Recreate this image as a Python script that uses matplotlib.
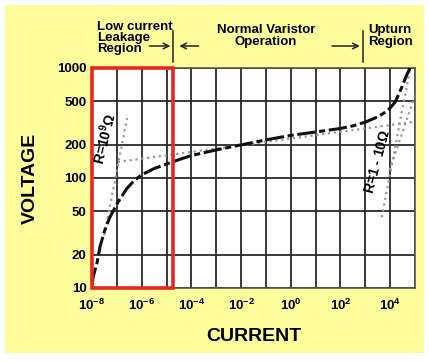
import matplotlib.pyplot as plt
from matplotlib.patches import Rectangle
import matplotlib.transforms as mtransforms

plt.rcParams['font.family'] = ['Liberation Sans', 'DejaVu Sans']
plt.rcParams['font.weight'] = 'bold'
plt.rcParams['mathtext.fontset'] = 'custom'
plt.rcParams['mathtext.rm'] = 'Liberation Sans:bold'
plt.rcParams['mathtext.bf'] = 'Liberation Sans:bold'
plt.rcParams['mathtext.it'] = 'Liberation Sans:bold:italic'

# V-I curve of a varistor
current = [1e-8, 1.12e-8, 1.6e-8, 2.1e-8, 3.2e-8, 5e-8, 1e-7, 2.5e-7, 5e-7,
           1e-6, 3.2e-6, 1e-5, 3.2e-5, 1e-4, 1e-3, 1e-2, 1e-1, 1, 10, 100,
           320, 1000, 3200, 8000, 1.6e4, 3e4, 4.5e4, 6.3e4]
voltage = [10.5, 12.7, 17, 23.7, 33, 43, 58, 80, 95,
           107, 122, 134, 147, 160, 180, 200, 222, 244, 262, 282,
           298, 322, 360, 410, 490, 676, 850, 1000]

# dotted tangent lines (start, end)
leak_I = [3.1e-8, 2.6e-7]
leak_V = [30, 351]
normal_I = [1.1e-7, 1e5]
normal_V = [140, 325]
upA_I = [4.6e3, 6.2e4]
upA_V = [44, 955]
upB_I = [9.5e3, 1e5]
upB_V = [118, 565]

xticks = [10.0 ** k for k in range(-8, 6)]
xlabels = ['$10^{%d}$' % k if k % 2 == 0 and k < 5 else '' for k in range(-8, 6)]
yticks = [10, 20, 50, 100, 200, 500, 1000]
ylabels = ['10', '20', '50', '100', '200', '500', '1000']

fig = plt.figure(figsize=(4.29, 3.62), dpi=100)
fig.patch.set_facecolor('white')
fig.patches.append(Rectangle((5 / 429, 1 - 353 / 362), 419 / 429, 348 / 362,
                             transform=fig.transFigure, facecolor='#fefd9c',
                             edgecolor='none', zorder=-5))

ax = fig.add_axes([92 / 429, 1 - 288 / 362, 323 / 429, 220 / 362])
ax.set_zorder(2)
ax.set_facecolor('white')
ax.set_xscale('log')
ax.set_yscale('log')
ax.set_xlim(1e-8, 1e5)
ax.set_ylim(10, 1000)

ax.set_xticks(xticks)
ax.set_xticklabels(xlabels)
ax.set_yticks(yticks)
ax.set_yticklabels(ylabels)
ax.minorticks_off()
ax.tick_params(length=0, labelsize=9.5, pad=7)
ax.tick_params(axis='y', pad=4)
ax.grid(True, color='#2a2a2a', linewidth=1.3)
for s in ax.spines.values():
    s.set_color('#555555')
    s.set_linewidth(1.2)

ax.plot(leak_I, leak_V, linestyle=':', color='#999999', linewidth=1.6, zorder=3)
ax.plot(normal_I, normal_V, linestyle=':', color='#999999', linewidth=1.6, zorder=3)
ax.plot(upA_I, upA_V, linestyle=':', color='#999999', linewidth=1.6, zorder=3)
ax.plot(upB_I, upB_V, linestyle=':', color='#999999', linewidth=1.6, zorder=3)
ax.plot(current, voltage, color='#111111', linewidth=2.2,
        linestyle=(0, (6, 1.2, 2, 1.2)), zorder=4)

box_right = 10 ** -4.73
ax.add_patch(Rectangle((1e-8, 10), box_right - 1e-8, 990, facecolor='none',
                       edgecolor='#e8281e', linewidth=2.6, zorder=5, clip_on=False))

ax.text(3.1e-8, 228, r'R=10$^9\Omega$', rotation=76, fontsize=10,
        ha='center', va='center', zorder=6)
ax.text(10 ** 3.52, 140, r'R=1 - 10$\Omega$', rotation=75, fontsize=10,
        ha='center', va='center', zorder=6)

ax.set_ylabel('VOLTAGE', fontsize=14, fontweight='bold', labelpad=13)
ax.set_xlabel('CURRENT', fontsize=14, fontweight='bold', labelpad=11)

# region annotations above the plot
trans = mtransforms.blended_transform_factory(ax.transData, ax.transAxes)
right_div = 10 ** 2.89
for xv in [box_right, right_div]:
    ax.plot([xv, xv], [1.027, 1.17], color='#222222', linewidth=1.1,
            transform=trans, clip_on=False)
arrow = dict(arrowstyle='->', color='#222222', linewidth=1.1)
ax.annotate('', xy=(box_right, 1.1), xytext=(10 ** -5.8, 1.1),
            xycoords=trans, textcoords=trans, arrowprops=arrow)
ax.annotate('', xy=(10 ** -4.6, 1.1), xytext=(10 ** -3.6, 1.1),
            xycoords=trans, textcoords=trans, arrowprops=arrow)
ax.annotate('', xy=(right_div, 1.1), xytext=(10 ** 1.55, 1.1),
            xycoords=trans, textcoords=trans, arrowprops=arrow)

ax.text(10 ** -7.8, 1.136, 'Low current\nLeakage\nRegion', transform=trans,
        fontsize=9.5, ha='left', va='center', linespacing=0.92)
ax.text(10 ** -1.0, 1.145, 'Normal Varistor\nOperation', transform=trans,
        fontsize=9.5, ha='center', va='center', linespacing=1.05)
ax.text(10 ** 3.12, 1.145, 'Upturn\nRegion', transform=trans,
        fontsize=9.5, ha='left', va='center', linespacing=1.05)

plt.savefig('out.png', dpi=100)
